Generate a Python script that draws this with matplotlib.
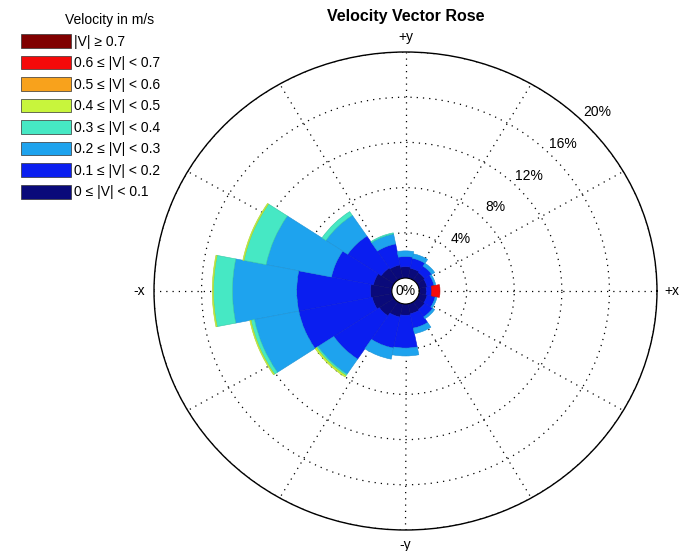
"""Velocity vector rose (stacked polar bars per direction bin)."""

import numpy as np
import matplotlib.pyplot as plt

plt.rcParams["font.family"] = ["Liberation Sans", "DejaVu Sans"]

# direction bins (deg, counter-clockwise from +x)
DIRECTIONS = np.arange(0, 360, 22.5)

# percent of samples per direction bin, one list per speed class
V_000_010 = [0.6, 0.7, 0.8, 0.9, 1.0, 1.2, 1.3, 1.6, 1.8, 1.7, 1.5, 1.2, 1.0, 0.9, 0.8, 0.7]
V_010_020 = [0.45, 0.6, 0.7, 0.9, 0.9, 1.9, 3.4, 3.6, 6.2, 6.3, 4.6, 2.8, 2.9, 1.3, 0.8, 0.7]
V_020_030 = [0.0, 0.15, 0.3, 0.4, 0.5, 0.9, 2.2, 5.6, 5.4, 3.8, 1.6, 1.0, 0.7, 0.5, 0.2, 0.15]
V_030_040 = [0, 0, 0, 0, 0, 0.1, 0.4, 1.9, 1.6, 0.3, 0.15, 0, 0, 0, 0, 0]
V_040_050 = [0, 0, 0, 0, 0, 0, 0, 0.1, 0.1, 0.1, 0.15, 0, 0, 0, 0, 0]
V_050_060 = [0] * 16
V_060_070 = [0.7, 0, 0, 0, 0, 0, 0, 0, 0, 0, 0, 0, 0, 0, 0, 0]
V_070_UP = [0] * 16

SPEED_BINS = [V_000_010, V_010_020, V_020_030, V_030_040,
              V_040_050, V_050_060, V_060_070, V_070_UP]
SPEED_LABELS = ["0 \u2264 |V| < 0.1", "0.1 \u2264 |V| < 0.2", "0.2 \u2264 |V| < 0.3",
                "0.3 \u2264 |V| < 0.4", "0.4 \u2264 |V| < 0.5", "0.5 \u2264 |V| < 0.6",
                "0.6 \u2264 |V| < 0.7", "|V| \u2265 0.7"]
SPEED_COLORS = ["#0a0a7a", "#0a1ef0", "#1ea3ee", "#46e8c4",
                "#c8f53c", "#f8a21c", "#f50a0a", "#800000"]
EDGE_COLORS = ["#0a0a6a", "#0a1cd8", "#1a92d6", "#34c8a6",
               "#a8d030", "#d88a14", "#c00808", "#600000"]

RINGS = [4, 8, 12, 16, 20]
R_MAX = 20
R_HOLE = 1.15  # size of the empty centre, in percent units

fig = plt.figure(figsize=(6.79, 5.51), dpi=100)
ax = fig.add_axes([154 / 679, 21 / 551, 503 / 679, 478 / 551], projection="polar")
ax.set_aspect("auto")

theta = np.deg2rad(DIRECTIONS)
width = np.deg2rad(22.5)
bottom = np.zeros(len(DIRECTIONS))
handles = []
for values, label, color, edge in zip(SPEED_BINS, SPEED_LABELS, SPEED_COLORS, EDGE_COLORS):
    values = np.asarray(values, dtype=float)
    keep = values > 0
    ax.bar(theta[keep], values[keep], width=width, bottom=bottom[keep], color=color,
           edgecolor=edge, linewidth=0.4, zorder=2)
    handles.append(plt.Rectangle((0, 0), 1, 1, facecolor=color,
                                 edgecolor="#333333", linewidth=0.5))
    bottom += values

ax.set_ylim(0, R_MAX)
ax.set_rorigin(-R_HOLE)
ax.set_axisbelow(True)

ax.set_rticks(RINGS)
ax.set_yticklabels([])
ax.set_xticks(np.deg2rad(np.arange(0, 360, 30)))
ax.set_xticklabels(["+x", "", "", "+y", "", "", "-x", "", "", "-y", "", ""], fontsize=10)
ax.tick_params(axis="x", pad=0)
ax.grid(True, color="black", linestyle=(0, (1, 4)), linewidth=0.9)
ax.spines["polar"].set_linewidth(1.0)
ax.spines["polar"].set_color("black")
if "inner" in ax.spines:
    ax.spines["inner"].set_visible(False)

for r in RINGS:
    ax.text(np.deg2rad(44.5), r + 1.4, f"{r}%", ha="center", va="center", fontsize=10)
ax.text(0.5, 0.5, "0%", transform=ax.transAxes, ha="center", va="center", fontsize=10)

fig.text(405.5 / 679, 1 - 17 / 551, "Velocity Vector Rose", ha="center", va="center",
         fontsize=11.5, fontweight="bold")

# legend (title placed separately, as in the reference it sits off-centre)
fig.text(110 / 679, 1 - 20 / 551, "Velocity in m/s", ha="center", va="center", fontsize=10)
leg = fig.legend(handles[::-1], SPEED_LABELS[::-1], loc="upper left",
                 bbox_to_anchor=(21 / 679, 1 - 34 / 551), frameon=False, fontsize=10,
                 handlelength=3.6, handleheight=1.15, labelspacing=0.5,
                 handletextpad=0.2, borderpad=0, borderaxespad=0)

fig.savefig("out.png", dpi=100)
